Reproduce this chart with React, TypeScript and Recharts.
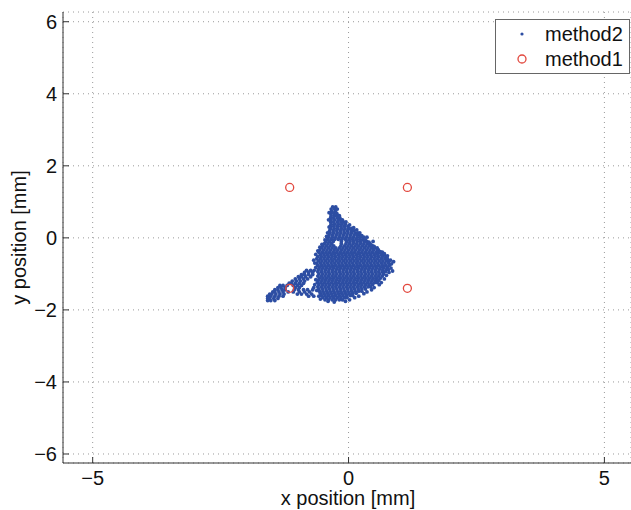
import React from 'react';
import { ScatterChart, Scatter, XAxis, YAxis, CartesianGrid, Legend } from 'recharts';

const xTicks = [-5, 0, 5];
const yTicks = [-6, -4, -2, 0, 2, 4, 6];
const xDomain: [number, number] = [-5.58, 5.52];
const yDomain: [number, number] = [-6.25, 6.27];

const seriesNames = ['method2', 'method1'];

// method1: four reference positions
const method1X = [-1.15, 1.15, 1.15, -1.15];
const method1Y = [1.4, 1.4, -1.4, -1.4];

// method2: dense cloud: [y, x values]
const method2CoreRows: [number, number[]][] = [
  [0.86, [-0.31, -0.25]],
  [0.80, [-0.34, -0.27, -0.22]],
  [0.74, [-0.33, -0.26]],
  [0.68, [-0.35, -0.29, -0.23]],
  [0.62, [-0.34, -0.27, -0.21]],
  [0.56, [-0.35, -0.29, -0.22, -0.17]],
  [0.50, [-0.34, -0.27, -0.20, -0.15]],
  [0.44, [-0.35, -0.29, -0.22, -0.15, -0.10]],
  [0.38, [-0.34, -0.27, -0.20, -0.13, -0.06]],
  [0.32, [-0.36, -0.29, -0.22, -0.15, -0.08, -0.01]],
  [0.26, [-0.35, -0.28, -0.21, -0.14, -0.07, 0.00, 0.06]],
  [0.20, [-0.37, -0.30, -0.23, -0.16, -0.09, -0.02, 0.05, 0.10]],
  [0.14, [-0.36, -0.29, -0.22, -0.15, -0.08, -0.01, 0.06, 0.13, 0.18]],
  [0.08, [-0.38, -0.31, -0.24, -0.17, -0.10, -0.03, 0.04, 0.11, 0.17, 0.22]],
  [0.02, [-0.39, -0.32, -0.25, -0.18, -0.11, -0.04, 0.03, 0.10, 0.17, 0.23, 0.30]],
  [-0.04, [-0.41, -0.34, -0.27, -0.20, -0.13, -0.06, 0.01, 0.08, 0.15, 0.22, 0.28]],
  [-0.10, [-0.44, -0.37, -0.30, -0.14, -0.04, 0.03, 0.10, 0.17, 0.24, 0.31, 0.36]],
  [-0.16, [-0.47, -0.40, -0.33, -0.14, -0.05, 0.02, 0.09, 0.16, 0.23, 0.30, 0.37, 0.42]],
  [-0.22, [-0.50, -0.43, -0.36, -0.29, -0.15, -0.08, -0.01, 0.06, 0.13, 0.20, 0.27, 0.34, 0.41, 0.47]],
  [-0.28, [-0.53, -0.46, -0.39, -0.32, -0.25, -0.18, -0.11, -0.04, 0.03, 0.10, 0.17, 0.24, 0.31, 0.38, 0.45, 0.51, 0.56]],
  [-0.34, [-0.56, -0.49, -0.42, -0.35, -0.28, -0.21, -0.14, -0.07, 0.00, 0.07, 0.14, 0.21, 0.28, 0.35, 0.42, 0.49, 0.56]],
  [-0.40, [-0.58, -0.51, -0.44, -0.37, -0.30, -0.23, -0.16, -0.09, -0.02, 0.05, 0.12, 0.19, 0.26, 0.33, 0.40, 0.47, 0.54, 0.61, 0.66]],
  [-0.46, [-0.55, -0.48, -0.41, -0.34, -0.27, -0.20, -0.13, -0.06, 0.01, 0.08, 0.15, 0.22, 0.29, 0.36, 0.43, 0.50, 0.57, 0.64, 0.70]],
  [-0.52, [-0.60, -0.53, -0.46, -0.39, -0.32, -0.25, -0.18, -0.11, -0.04, 0.03, 0.10, 0.17, 0.24, 0.31, 0.38, 0.45, 0.52, 0.59, 0.66, 0.73]],
  [-0.58, [-0.62, -0.55, -0.48, -0.41, -0.34, -0.27, -0.20, -0.13, -0.06, 0.01, 0.08, 0.15, 0.22, 0.29, 0.36, 0.43, 0.50, 0.57, 0.64, 0.71, 0.76]],
  [-0.64, [-0.59, -0.52, -0.45, -0.38, -0.31, -0.24, -0.17, -0.10, -0.03, 0.04, 0.11, 0.18, 0.25, 0.32, 0.39, 0.46, 0.53, 0.60, 0.67, 0.74, 0.79]],
  [-0.70, [-0.62, -0.55, -0.48, -0.41, -0.34, -0.27, -0.20, -0.13, -0.06, 0.01, 0.08, 0.15, 0.22, 0.29, 0.36, 0.43, 0.50, 0.57, 0.64, 0.71, 0.78]],
  [-0.76, [-0.60, -0.53, -0.46, -0.39, -0.32, -0.25, -0.18, -0.11, -0.04, 0.03, 0.10, 0.17, 0.24, 0.31, 0.38, 0.45, 0.52, 0.59, 0.66, 0.73, 0.80]],
  [-0.82, [-0.64, -0.57, -0.50, -0.43, -0.36, -0.29, -0.22, -0.15, -0.08, -0.01, 0.06, 0.13, 0.20, 0.27, 0.34, 0.41, 0.48, 0.55, 0.62, 0.69, 0.76]],
  [-0.88, [-0.59, -0.52, -0.45, -0.38, -0.31, -0.24, -0.17, -0.10, -0.03, 0.04, 0.11, 0.18, 0.25, 0.32, 0.39, 0.46, 0.53, 0.60, 0.67, 0.74, 0.78]],
  [-0.94, [-0.60, -0.53, -0.46, -0.39, -0.32, -0.25, -0.18, -0.11, -0.04, 0.03, 0.10, 0.17, 0.24, 0.31, 0.38, 0.45, 0.52, 0.59, 0.66, 0.72]],
  [-1.00, [-0.58, -0.51, -0.44, -0.37, -0.30, -0.23, -0.16, -0.09, -0.02, 0.05, 0.12, 0.19, 0.26, 0.33, 0.40, 0.47, 0.54, 0.61, 0.68]],
  [-1.06, [-0.60, -0.53, -0.46, -0.39, -0.32, -0.25, -0.18, -0.11, -0.04, 0.03, 0.10, 0.17, 0.24, 0.31, 0.38, 0.45, 0.52, 0.59, 0.66]],
  [-1.12, [-0.57, -0.50, -0.43, -0.36, -0.29, -0.22, -0.15, -0.08, -0.01, 0.06, 0.13, 0.20, 0.27, 0.34, 0.41, 0.48, 0.55, 0.62]],
  [-1.18, [-0.59, -0.52, -0.45, -0.38, -0.31, -0.24, -0.17, -0.10, -0.03, 0.04, 0.11, 0.18, 0.25, 0.32, 0.39, 0.46, 0.53, 0.59]],
  [-1.24, [-0.61, -0.54, -0.47, -0.40, -0.33, -0.26, -0.19, -0.12, -0.05, 0.02, 0.09, 0.16, 0.23, 0.30, 0.37, 0.44, 0.51, 0.56]],
  [-1.30, [-0.58, -0.51, -0.44, -0.37, -0.30, -0.23, -0.16, -0.09, -0.02, 0.05, 0.12, 0.19, 0.26, 0.33, 0.40, 0.47]],
  [-1.36, [-0.60, -0.53, -0.46, -0.39, -0.32, -0.25, -0.18, -0.11, -0.04, 0.03, 0.10, 0.17, 0.24, 0.31, 0.38, 0.43]],
  [-1.42, [-0.58, -0.51, -0.44, -0.37, -0.30, -0.23, -0.16, -0.09, -0.02, 0.05, 0.12, 0.19, 0.26, 0.33]],
  [-1.48, [-0.57, -0.50, -0.43, -0.36, -0.29, -0.22, -0.15, -0.08, -0.01, 0.06, 0.13, 0.20, 0.26]],
  [-1.54, [-0.55, -0.48, -0.41, -0.34, -0.27, -0.20, -0.13, -0.06, 0.01, 0.08, 0.15]],
  [-1.60, [-0.53, -0.46, -0.39, -0.32, -0.25, -0.18, -0.11, -0.04, 0.03, 0.08]],
  [-1.66, [-0.50, -0.43, -0.36, -0.29, -0.22, -0.15, -0.08, -0.03]],
  [-1.72, [-0.46, -0.39, -0.32, -0.25, -0.18, -0.12]],
];

const method2TailRows: [number, number[]][] = [
  [-0.90, [-0.82, -0.74, -0.67]],
  [-0.96, [-0.86, -0.78, -0.70]],
  [-1.02, [-0.92, -0.86, -0.78, -0.70]],
  [-1.08, [-0.98, -0.92, -0.84, -0.74]],
  [-1.14, [-1.04, -0.96, -0.88, -0.80]],
  [-1.20, [-1.10, -1.02, -0.94, -0.86]],
  [-1.26, [-1.16, -1.12, -1.04, -0.96, -0.88]],
  [-1.32, [-1.34, -1.28, -1.20, -1.08, -1.00, -0.92]],
  [-1.38, [-1.38, -1.32, -1.24, -1.04, -0.96, -0.68]],
  [-1.44, [-1.44, -1.38, -1.30, -1.24, -1.06, -0.98, -0.88, -0.80, -0.70]],
  [-1.50, [-1.48, -1.44, -1.36, -1.28, -1.18, -1.08, -0.96, -0.86, -0.76]],
  [-1.56, [-1.54, -1.50, -1.42, -1.34, -1.26, -1.00, -0.92, -0.82, -0.72]],
  [-1.62, [-1.58, -1.52, -1.44, -1.36, -1.28, -0.78, -0.68]],
  [-1.68, [-1.58, -1.54, -1.46, -1.38]],
  [-1.74, [-1.58, -1.52, -1.44]],
];

// scattered points around the ragged edge of the cloud: [x, y]
const method2EdgePoints: [number, number][] = [
  [0.26, 0.06], [0.33, -0.06], [0.40, -0.12], [0.45, -0.20], [0.50, -0.24],
  [0.58, -0.33], [0.62, -0.38], [0.70, -0.44], [0.76, -0.50], [0.82, -0.62],
  [0.84, -0.72], [0.83, -0.84], [0.79, -0.96], [0.74, -1.04], [0.70, -1.14],
  [0.64, -1.24], [0.60, -1.30], [0.50, -1.38], [0.45, -1.44], [0.36, -1.50],
  [0.30, -1.55], [0.20, -1.62], [0.12, -1.66], [0.02, -1.72], [-0.06, -1.76],
  [-0.28, -1.78], [-0.40, -1.76], [-0.55, -1.70], [-0.58, -1.62], [-0.62, -1.46],
  [-0.66, -1.30], [-0.64, -1.16], [-0.66, -0.70], [-0.68, -0.62], [-0.64, -0.46],
  [-0.60, -0.36], [-0.56, -0.26], [-0.52, -0.18], [-0.46, -0.06], [-0.43, 0.04],
  [-0.41, 0.14], [-0.38, 0.30], [-0.39, 0.50], [-0.38, 0.70], [-0.18, 0.62],
  [-0.12, 0.50], [-0.05, 0.44], [0.02, 0.36], [0.10, 0.28], [0.16, 0.22],
  [0.22, 0.14], [0.36, 0.02], [0.48, -0.10], [0.88, -0.66], [0.86, -0.92],
];

const method2Data = [
  ...[...method2CoreRows, ...method2TailRows].flatMap(([y, xs]) => xs.map((x) => ({ x, y }))),
  ...method2EdgePoints.map(([x, y]) => ({ x, y })),
];
const method1Data = method1X.map((x, i) => ({ x, y: method1Y[i] }));

const BLUE = '#2d4ea3';
const RED = '#e2483e';
const FONT = '"Liberation Sans", Arial, Helvetica, sans-serif';
const fmt = (v: number) => (v < 0 ? '\u2212' + Math.abs(v) : String(v));

const BottomTick = (props: any) => {
  const { x, y, payload } = props;
  return (
    <g>
      <line x1={x} y1={y} x2={x} y2={y - 6} stroke="#333" strokeWidth={1} />
      <text x={x} y={y + 22} textAnchor="middle" fontSize={20} fontFamily={FONT} fill="#111">
        {fmt(payload.value)}
      </text>
    </g>
  );
};

const TopTick = (props: any) => {
  const { x, y } = props;
  return <line x1={x} y1={y} x2={x} y2={y + 6} stroke="#333" strokeWidth={1} />;
};

const LeftTick = (props: any) => {
  const { x, y, payload } = props;
  return (
    <g>
      <line x1={x} y1={y} x2={x + 6} y2={y} stroke="#333" strokeWidth={1} />
      <text x={x - 6} y={y + 7} textAnchor="end" fontSize={20} fontFamily={FONT} fill="#111">
        {fmt(payload.value)}
      </text>
    </g>
  );
};

const XLabel = (props: any) => {
  const vb = props.viewBox || { x: 63, y: 463, width: 568, height: 47 };
  return (
    <text x={vb.x + vb.width / 2 + 1} y={505} textAnchor="middle" fontSize={20} fontFamily={FONT} fill="#111">
      x position [mm]
    </text>
  );
};

const YLabel = (props: any) => {
  const vb = props.viewBox || { x: 0, y: 12, width: 63, height: 451 };
  const cy = vb.y + vb.height / 2;
  return (
    <text
      x={26}
      y={cy}
      transform={`rotate(-90, 26, ${cy})`}
      textAnchor="middle"
      fontSize={20}
      fontFamily={FONT}
      fill="#111"
    >
      y position [mm]
    </text>
  );
};

const LegendBox = () => (
  <svg width={135} height={55} style={{ display: 'block' }}>
    <rect x={0.5} y={0.5} width={134} height={54} fill="#fff" stroke="#666" strokeWidth={1} />
    <circle cx={27} cy={15} r={1.6} fill={BLUE} />
    <text x={50} y={22} fontSize={20} fontFamily={FONT} fill="#111">{seriesNames[0]}</text>
    <circle cx={27} cy={40} r={4} fill="none" stroke={RED} strokeWidth={1.3} />
    <text x={50} y={47} fontSize={20} fontFamily={FONT} fill="#111">{seriesNames[1]}</text>
  </svg>
);

const BlueDot = (p: any) => <circle cx={p.cx} cy={p.cy} r={1.9} fill={BLUE} />;
const RedCircle = (p: any) => (
  <circle cx={p.cx} cy={p.cy} r={4} fill="none" stroke={RED} strokeWidth={1.3} />
);

export default function App() {
  return (
    <div style={{ position: 'absolute', left: 0, top: 0, width: 631, height: 510, background: '#fff' }}>
      <ScatterChart width={631} height={510} margin={{ top: 12, right: 0, bottom: 0, left: 0 }}>
        <CartesianGrid stroke="#9a9a9a" strokeDasharray="1 4" />
        <XAxis
          dataKey="x"
          type="number"
          domain={xDomain}
          ticks={xTicks}
          allowDataOverflow
          height={47}
          tickSize={0}
          tickMargin={0}
          tickLine={false}
          axisLine={{ stroke: '#333' }}
          tick={(p: any) => <BottomTick {...p} />}
          label={(p: any) => <XLabel {...p} />}
        />
        <XAxis
          xAxisId="top"
          orientation="top"
          dataKey="x"
          type="number"
          domain={xDomain}
          ticks={xTicks}
          allowDataOverflow
          height={0}
          tickSize={0}
          tickMargin={0}
          tickLine={false}
          axisLine={{ stroke: '#111' }}
          tick={(p: any) => <TopTick {...p} />}
        />
        <YAxis
          dataKey="y"
          type="number"
          domain={yDomain}
          ticks={yTicks}
          allowDataOverflow
          width={63}
          tickSize={0}
          tickMargin={0}
          tickLine={false}
          axisLine={{ stroke: '#333' }}
          tick={(p: any) => <LeftTick {...p} />}
          label={(p: any) => <YLabel {...p} />}
        />
        <Legend
          layout="vertical"
          align="center"
          verticalAlign="middle"
          wrapperStyle={{ position: 'absolute', left: 495, top: 19, width: 135, height: 55 }}
          content={() => <LegendBox />}
        />
        <Scatter
          name={seriesNames[0]}
          data={method2Data}
          fill={BLUE}
          shape={(p: any) => <BlueDot {...p} />}
          isAnimationActive={false}
        />
        <Scatter
          name={seriesNames[1]}
          data={method1Data}
          fill={RED}
          shape={(p: any) => <RedCircle {...p} />}
          isAnimationActive={false}
        />
      </ScatterChart>
    </div>
  );
}
